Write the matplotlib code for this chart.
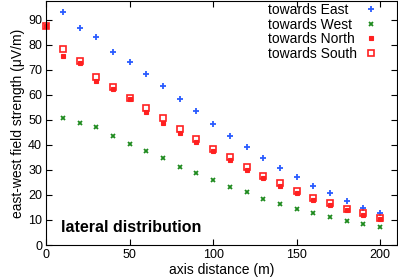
import matplotlib.pyplot as plt

plt.rcParams["font.family"] = ["Liberation Sans", "DejaVu Sans"]

distance_east = [10, 20, 30, 40, 50, 60, 70, 80, 90, 100,
                 110, 120, 130, 140, 150, 160, 170, 180, 190, 200]
field_east = [93.2, 86.7, 83.1, 77.1, 73.3, 68.3, 63.5, 58.4, 53.6, 48.5,
              43.7, 39.2, 34.8, 30.9, 27.3, 23.7, 20.7, 17.5, 14.9, 12.9]

distance_west = distance_east
field_west = [50.7, 48.8, 47.3, 43.7, 40.4, 37.7, 34.7, 31.3, 28.7, 26.0,
              23.3, 21.1, 18.5, 16.3, 14.4, 12.8, 11.1, 9.7, 8.4, 7.2]

distance_ns = [0] + distance_east
field_north = [87.6, 75.6, 72.7, 65.6, 62.4, 58.3, 53.3, 48.9, 44.7, 41.2, 37.5,
               34.0, 30.0, 26.7, 23.5, 20.7, 18.0, 15.8, 13.8, 12.0, 10.2]
field_south = [87.6, 78.4, 73.5, 67.1, 63.1, 58.9, 54.9, 50.7, 46.4, 42.3, 38.4,
               35.3, 31.0, 27.6, 24.6, 21.5, 18.8, 16.7, 14.4, 12.7, 10.9]

labels = ["towards East", "towards West", "towards North", "towards South"]

x_ticks = [0, 50, 100, 150, 200]
y_ticks = [0, 10, 20, 30, 40, 50, 60, 70, 80, 90]

BLUE = "#2a5cff"
GREEN = "#1e8a1e"
RED = "#ff2020"

fig = plt.figure(figsize=(3.98, 2.8), dpi=100)
ax = fig.add_axes([0.116, 0.125, 0.881, 0.871])

h_east, = ax.plot(distance_east, field_east, ls="none", marker="+", ms=4.5,
                  mew=1.3, color=BLUE, clip_on=False)
h_west, = ax.plot(distance_west, field_west, ls="none", marker="x", ms=3.5,
                  mew=1.3, color=GREEN, clip_on=False)
h_north, = ax.plot(distance_ns, field_north, ls="none", marker="s", ms=3.5,
                   mew=0.8, color=RED, clip_on=False)
h_south, = ax.plot(distance_ns, field_south, ls="none", marker="s", ms=4.0,
                   mew=1.2, color=RED, mfc="none", clip_on=False)
handles = [h_east, h_west, h_north, h_south]

ax.set_xlim(0, 210)
ax.set_ylim(0, 97.5)
ax.set_xticks(x_ticks)
ax.set_yticks(y_ticks)
ax.tick_params(direction="in", top=True, right=True, length=4, width=0.8,
               labelsize=9, pad=3)
for spine in ax.spines.values():
    spine.set_linewidth(0.8)

ax.set_xlabel("axis distance (m)", fontsize=10, labelpad=1)
ax.set_ylabel("east-west field strength (μV/m)", fontsize=10, labelpad=2)

ax.text(8.7, 5.3, "lateral distribution", fontsize=11.5, fontweight="bold")

# gnuplot-style key: symbols on the right, text left-aligned
leg = ax.legend(handles, labels, loc="upper right",
                bbox_to_anchor=(0.946, 0.992), markerfirst=False,
                frameon=False, fontsize=10, labelspacing=0.04,
                handlelength=1.0, handletextpad=0.5,
                borderaxespad=0, borderpad=0)
fig.canvas.draw()
renderer = fig.canvas.get_renderer()
widths = [t.get_window_extent(renderer).width for t in leg.get_texts()]
rows = leg._legend_handle_box.get_children()[0].get_children()
for row, w in zip(rows, widths):
    row.sep += (max(widths) - w) * 72 / fig.dpi

fig.savefig("out.png", dpi=100)
